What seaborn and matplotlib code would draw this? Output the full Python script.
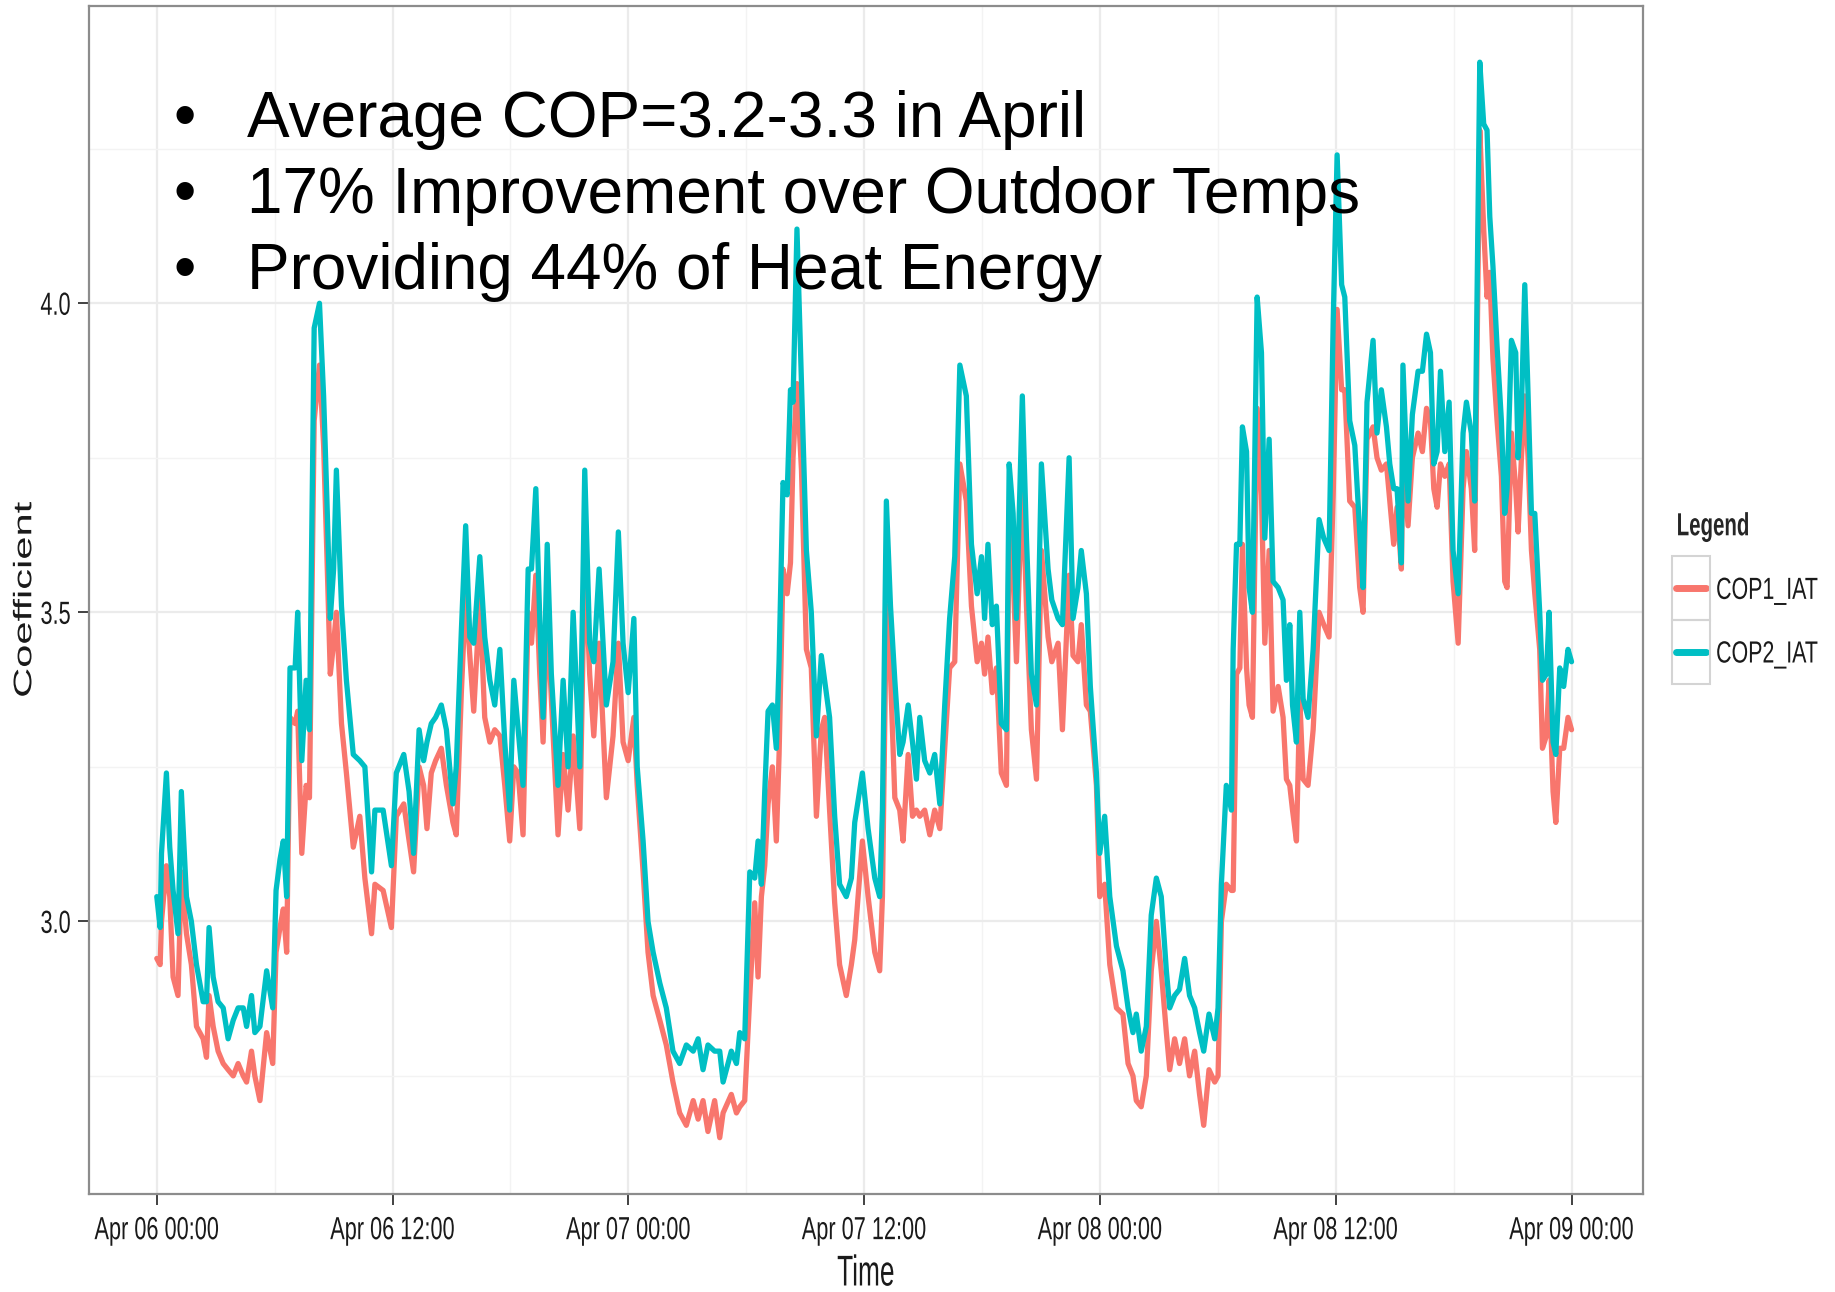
import pandas as pd
import numpy as np
import matplotlib
matplotlib.use("Agg")
import matplotlib.pyplot as plt
import matplotlib.dates as mdates
import matplotlib.patheffects as pe
from matplotlib.transforms import Affine2D, Bbox
from matplotlib.patches import Rectangle
import seaborn as sns

# hours after Apr 06 00:00
hours = [
    0.00, 0.17, 0.24, 0.49, 0.66, 0.83, 1.08, 1.25, 1.51, 1.76,
    2.02, 2.36, 2.53, 2.66, 2.87, 3.12, 3.38, 3.63, 3.89, 4.14,
    4.40, 4.57, 4.82, 4.99, 5.25, 5.59, 5.90, 6.07, 6.27, 6.44,
    6.61, 6.78, 7.04, 7.17, 7.38, 7.60, 7.77, 8.01, 8.28, 8.49,
    8.66, 8.83, 9.00, 9.14, 9.40, 9.65, 10.00, 10.33, 10.59, 10.93,
    11.10, 11.52, 11.94, 12.19, 12.57, 12.84, 13.07, 13.35, 13.58, 13.75,
    13.97, 14.19, 14.48, 14.74, 15.07, 15.24, 15.50, 15.72, 15.93, 16.13,
    16.44, 16.69, 16.95, 17.20, 17.46, 17.71, 17.96, 18.17, 18.39, 18.64,
    18.90, 19.07, 19.29, 19.49, 19.66, 19.87, 20.08, 20.42, 20.68, 20.93,
    21.19, 21.53, 21.78, 22.03, 22.24, 22.51, 22.88, 23.22, 23.49, 23.73,
    23.99, 24.28, 24.45, 24.75, 25.00, 25.26, 25.60, 25.93, 26.27, 26.61,
    26.95, 27.30, 27.55, 27.80, 28.05, 28.39, 28.65, 28.82, 29.24, 29.50,
    29.67, 29.92, 30.18, 30.43, 30.60, 30.77, 30.94, 31.11, 31.33, 31.53,
    31.67, 31.87, 32.08, 32.25, 32.38, 32.58, 32.81, 33.06, 33.31, 33.57,
    33.82, 33.99, 34.24, 34.50, 34.75, 35.09, 35.35, 35.52, 35.91, 36.20,
    36.54, 36.79, 36.93, 37.13, 37.34, 37.56, 37.81, 37.98, 38.24, 38.46,
    38.66, 38.83, 39.08, 39.34, 39.59, 39.85, 40.10, 40.35, 40.61, 40.87,
    41.20, 41.46, 41.75, 41.97, 42.13, 42.30, 42.52, 42.73, 42.98, 43.24,
    43.38, 43.58, 43.75, 44.05, 44.26, 44.51, 44.77, 45.02, 45.36, 45.55,
    45.87, 46.09, 46.43, 46.63, 46.88, 47.05, 47.31, 47.51, 47.82, 47.99,
    48.24, 48.50, 48.84, 49.17, 49.43, 49.68, 49.85, 50.10, 50.36, 50.61,
    50.87, 51.12, 51.38, 51.55, 51.80, 52.05, 52.31, 52.56, 52.82, 53.07,
    53.28, 53.55, 53.84, 54.01, 54.18, 54.43, 54.69, 54.78, 54.95, 55.12,
    55.25, 55.46, 55.59, 55.76, 56.00, 56.22, 56.39, 56.61, 56.81, 57.07,
    57.32, 57.49, 57.66, 57.80, 58.00, 58.17, 58.34, 58.59, 58.85, 59.15,
    59.39, 59.66, 59.87, 60.07, 60.30, 60.46, 60.71, 60.97, 61.22, 61.39,
    61.59, 61.90, 62.10, 62.32, 62.58, 62.75, 62.95, 63.12, 63.34, 63.42,
    63.68, 63.90, 64.19, 64.41, 64.62, 64.82, 64.99, 65.16, 65.33, 65.55,
    65.77, 65.97, 66.23, 66.48, 66.65, 66.90, 67.07, 67.33, 67.53, 67.70,
    67.84, 68.00, 68.21, 68.43, 68.60, 68.72, 68.94, 69.16, 69.28, 69.45,
    69.62, 69.79, 69.96, 70.13, 70.38, 70.52, 70.72, 70.86, 71.06, 71.20,
    71.40, 71.60, 71.82, 72.00,
]

cop1_iat = [
    2.94, 2.93, 3.00, 3.09, 3.04, 2.91, 2.88, 3.08, 2.98, 2.93,
    2.83, 2.81, 2.78, 2.88, 2.83, 2.79, 2.77, 2.76, 2.75, 2.77,
    2.75, 2.74, 2.79, 2.75, 2.71, 2.82, 2.77, 2.95, 2.99, 3.02,
    2.95, 3.33, 3.32, 3.34, 3.11, 3.22, 3.20, 3.81, 3.90, 3.77,
    3.59, 3.40, 3.45, 3.50, 3.32, 3.24, 3.12, 3.17, 3.07, 2.98,
    3.06, 3.05, 2.99, 3.17, 3.19, 3.13, 3.08, 3.25, 3.22, 3.15,
    3.24, 3.26, 3.28, 3.22, 3.16, 3.14, 3.37, 3.53, 3.43, 3.34,
    3.52, 3.33, 3.29, 3.31, 3.30, 3.22, 3.13, 3.25, 3.24, 3.14,
    3.50, 3.45, 3.56, 3.40, 3.29, 3.50, 3.36, 3.14, 3.27, 3.18,
    3.30, 3.15, 3.60, 3.40, 3.30, 3.45, 3.20, 3.30, 3.45, 3.29,
    3.26, 3.33, 3.22, 3.08, 2.95, 2.88, 2.84, 2.80, 2.74, 2.69,
    2.67, 2.71, 2.68, 2.71, 2.66, 2.71, 2.65, 2.69, 2.72, 2.69,
    2.70, 2.71, 2.88, 3.03, 2.91, 3.04, 3.09, 3.19, 3.25, 3.13,
    3.27, 3.57, 3.53, 3.58, 3.75, 3.87, 3.73, 3.44, 3.41, 3.17,
    3.31, 3.33, 3.18, 3.03, 2.93, 2.88, 2.93, 2.97, 3.13, 3.04,
    2.95, 2.92, 3.04, 3.51, 3.40, 3.20, 3.18, 3.13, 3.27, 3.17,
    3.18, 3.17, 3.18, 3.14, 3.18, 3.15, 3.28, 3.41, 3.42, 3.74,
    3.68, 3.51, 3.42, 3.45, 3.40, 3.46, 3.37, 3.41, 3.24, 3.22,
    3.65, 3.56, 3.42, 3.72, 3.51, 3.31, 3.23, 3.60, 3.46, 3.42,
    3.45, 3.31, 3.56, 3.43, 3.42, 3.48, 3.35, 3.34, 3.22, 3.04,
    3.06, 2.93, 2.86, 2.85, 2.77, 2.75, 2.71, 2.70, 2.75, 2.92,
    3.00, 2.92, 2.82, 2.76, 2.81, 2.77, 2.81, 2.75, 2.79, 2.72,
    2.67, 2.76, 2.74, 2.75, 3.00, 3.06, 3.05, 3.05, 3.40, 3.41,
    3.61, 3.41, 3.35, 3.33, 3.83, 3.69, 3.45, 3.60, 3.34, 3.38,
    3.33, 3.23, 3.22, 3.18, 3.13, 3.36, 3.23, 3.22, 3.31, 3.50,
    3.48, 3.46, 3.69, 3.99, 3.86, 3.86, 3.68, 3.67, 3.54, 3.50,
    3.78, 3.80, 3.75, 3.73, 3.74, 3.68, 3.61, 3.67, 3.57, 3.75,
    3.64, 3.75, 3.79, 3.76, 3.83, 3.81, 3.70, 3.67, 3.74, 3.72,
    3.74, 3.55, 3.45, 3.70, 3.76, 3.70, 3.60, 4.28, 4.12, 4.01,
    4.05, 3.91, 3.81, 3.72, 3.55, 3.54, 3.79, 3.70, 3.63, 3.75,
    3.85, 3.75, 3.60, 3.53, 3.44, 3.28, 3.30, 3.39, 3.21, 3.16,
    3.28, 3.28, 3.33, 3.31,
]

cop2_iat = [
    3.04, 2.99, 3.11, 3.24, 3.12, 3.05, 2.98, 3.21, 3.04, 3.00,
    2.93, 2.87, 2.87, 2.99, 2.91, 2.87, 2.86, 2.81, 2.84, 2.86,
    2.86, 2.83, 2.88, 2.82, 2.83, 2.92, 2.86, 3.05, 3.10, 3.13,
    3.04, 3.41, 3.41, 3.50, 3.26, 3.39, 3.31, 3.96, 4.00, 3.85,
    3.68, 3.49, 3.57, 3.73, 3.51, 3.39, 3.27, 3.26, 3.25, 3.08,
    3.18, 3.18, 3.09, 3.24, 3.27, 3.21, 3.11, 3.31, 3.26, 3.29,
    3.32, 3.33, 3.35, 3.31, 3.19, 3.25, 3.47, 3.64, 3.46, 3.45,
    3.59, 3.46, 3.39, 3.35, 3.44, 3.29, 3.18, 3.39, 3.31, 3.22,
    3.57, 3.57, 3.70, 3.49, 3.33, 3.61, 3.40, 3.22, 3.39, 3.25,
    3.50, 3.25, 3.73, 3.45, 3.42, 3.57, 3.35, 3.42, 3.63, 3.45,
    3.37, 3.49, 3.25, 3.13, 3.00, 2.95, 2.90, 2.86, 2.79, 2.77,
    2.80, 2.79, 2.81, 2.76, 2.80, 2.79, 2.79, 2.74, 2.79, 2.77,
    2.82, 2.81, 3.08, 3.07, 3.13, 3.06, 3.21, 3.34, 3.35, 3.28,
    3.42, 3.71, 3.69, 3.86, 3.84, 4.12, 3.87, 3.60, 3.50, 3.30,
    3.43, 3.39, 3.33, 3.17, 3.06, 3.04, 3.07, 3.16, 3.24, 3.15,
    3.07, 3.04, 3.18, 3.68, 3.51, 3.39, 3.27, 3.29, 3.35, 3.29,
    3.23, 3.33, 3.26, 3.24, 3.27, 3.19, 3.35, 3.49, 3.59, 3.90,
    3.85, 3.61, 3.53, 3.59, 3.49, 3.61, 3.48, 3.51, 3.32, 3.31,
    3.74, 3.66, 3.49, 3.85, 3.62, 3.40, 3.35, 3.74, 3.57, 3.52,
    3.49, 3.48, 3.75, 3.49, 3.54, 3.60, 3.53, 3.38, 3.24, 3.11,
    3.17, 3.04, 2.96, 2.92, 2.86, 2.82, 2.85, 2.79, 2.83, 3.01,
    3.07, 3.04, 2.92, 2.86, 2.88, 2.89, 2.94, 2.88, 2.86, 2.82,
    2.79, 2.85, 2.81, 2.86, 3.06, 3.22, 3.18, 3.44, 3.61, 3.61,
    3.80, 3.76, 3.54, 3.50, 4.01, 3.92, 3.62, 3.78, 3.55, 3.54,
    3.52, 3.39, 3.48, 3.35, 3.29, 3.50, 3.36, 3.33, 3.44, 3.65,
    3.62, 3.60, 3.97, 4.24, 4.03, 4.01, 3.81, 3.77, 3.63, 3.54,
    3.84, 3.94, 3.79, 3.86, 3.80, 3.74, 3.70, 3.70, 3.58, 3.90,
    3.68, 3.82, 3.89, 3.89, 3.95, 3.92, 3.74, 3.76, 3.89, 3.76,
    3.84, 3.60, 3.53, 3.79, 3.84, 3.79, 3.68, 4.39, 4.29, 4.28,
    4.14, 4.06, 3.93, 3.81, 3.66, 3.70, 3.94, 3.92, 3.75, 3.83,
    4.03, 3.85, 3.66, 3.66, 3.50, 3.39, 3.40, 3.50, 3.29, 3.27,
    3.41, 3.38, 3.44, 3.42,
]

series_names = ["COP1_IAT", "COP2_IAT"]
colors = ["#F8766D", "#00BFC4"]
bullets = [
    "Average COP=3.2-3.3 in April",
    "17% Improvement over Outdoor Temps",
    "Providing 44% of Heat Energy",
]

start = pd.Timestamp("2015-04-06 00:00")
times = start + pd.to_timedelta(hours, unit="h")
df = pd.concat([
    pd.DataFrame({"Time": times, "Coefficient": cop1_iat, "Legend": series_names[0]}),
    pd.DataFrame({"Time": times, "Coefficient": cop2_iat, "Legend": series_names[1]}),
])


class Squeeze(pe.AbstractPathEffect):
    """the source image was squashed sideways, so its axis text looks condensed"""
    def __init__(self, sx=1.0, sy=1.0, anchor="center"):
        super().__init__()
        self.sx, self.sy, self.anchor = sx, sy, anchor

    def draw_path(self, renderer, gc, tpath, affine, rgbFace=None):
        ext = tpath.get_extents()
        cx = {"left": ext.x0, "right": ext.x1}.get(self.anchor, (ext.x0 + ext.x1) / 2)
        cy = (ext.y0 + ext.y1) / 2
        t = Affine2D().translate(-cx, -cy).scale(self.sx, self.sy).translate(cx, cy)
        renderer.draw_path(gc, tpath, t + affine, rgbFace)


def squeeze(text, k, anchor="center", rotated=False):
    # condense the glyphs and report the narrower box too
    text.set_path_effects([Squeeze(1.0, k) if rotated else Squeeze(k, 1.0, anchor)])
    orig = text.get_window_extent

    def extent(renderer=None, dpi=None):
        bb = orig(renderer, dpi)
        w = bb.width * k
        if anchor == "left" and not rotated:
            x0 = bb.x0
        elif anchor == "right" and not rotated:
            x0 = bb.x1 - w
        else:
            x0 = (bb.x0 + bb.x1 - w) / 2
        return Bbox.from_extents(x0, bb.y0, x0 + w, bb.y1)

    text.get_window_extent = extent


sns.set_theme(style="white")
plt.rcParams["font.family"] = ["Liberation Sans", "DejaVu Sans"]

fig = plt.figure(figsize=(18.35, 12.92), dpi=100)
ax = fig.add_axes([0.0485, 0.0759, 0.8469, 0.9195])

sns.lineplot(data=df, x="Time", y="Coefficient", hue="Legend",
             hue_order=series_names, palette=colors, linewidth=3.8,
             estimator=None, ax=ax)

ax.set_xlim(start - pd.Timedelta(hours=3.45), start + pd.Timedelta(hours=75.64))
ax.set_ylim(2.559, 4.481)

ax.xaxis.set_major_locator(mdates.HourLocator(byhour=[0, 12]))
ax.xaxis.set_minor_locator(mdates.HourLocator(byhour=[6, 18]))
ax.xaxis.set_major_formatter(mdates.DateFormatter("%b %d %H:%M"))
ax.set_yticks([3.0, 3.5, 4.0])
ax.set_yticks([2.75, 3.25, 3.75, 4.25], minor=True)
ax.yaxis.set_major_formatter(matplotlib.ticker.FormatStrFormatter("%.1f"))

ax.grid(which="major", color="#EBEBEB", linewidth=1.6)
ax.grid(which="minor", color="#F3F3F3", linewidth=1.0)
ax.set_axisbelow(True)
for s in ax.spines.values():
    s.set_color("#8C8C8C")
    s.set_linewidth(1.6)

ax.tick_params(axis="both", which="major", direction="out", length=8, width=1.3,
               color="#333333", bottom=True, left=True)
ax.tick_params(axis="x", which="major", pad=8)
ax.tick_params(axis="y", which="major", pad=5)
ax.tick_params(axis="both", which="minor", length=0)
for lab in ax.get_xticklabels():
    lab.set_fontsize(23)
    lab.set_color("#1A1A1A")
    squeeze(lab, 0.68)
for lab in ax.get_yticklabels():
    lab.set_fontsize(23)
    lab.set_color("#1A1A1A")
    squeeze(lab, 0.68, anchor="right")

ax.set_xlabel("Time", fontsize=31, color="#1A1A1A", labelpad=6)
squeeze(ax.xaxis.label, 0.61)
ax.set_ylabel("")
ylab = fig.text(0.0142, 0.5356, "Coefficient", rotation=90, ha="center", va="center",
                fontsize=30, color="#1A1A1A")
squeeze(ylab, 0.61, rotated=True)

leg = ax.legend(title="Legend", loc="upper left", bbox_to_anchor=(0.9133, 0.6035),
                bbox_transform=fig.transFigure, frameon=False,
                handlelength=1.0, handletextpad=0.3, labelspacing=1.1,
                borderpad=0, borderaxespad=0,
                prop={"size": 22},
                title_fontproperties={"size": 23, "weight": "bold"})
leg._legend_box.align = "left"
squeeze(leg.get_title(), 0.64, anchor="left")
for t in leg.get_texts():
    t.set_color("#1A1A1A")
    squeeze(t, 0.70, anchor="left")
for line in leg.get_lines():
    line.set_linewidth(5)

ys = [0.894, 0.835, 0.776]
for txt, y in zip(bullets, ys):
    fig.text(0.1008, y, "\u2022", ha="center", va="baseline", fontsize=46, color="black")
    fig.text(0.1346, y, txt, ha="left", va="baseline", fontsize=46, color="black")

# grey key boxes around the legend swatches, as in ggplot's theme_bw
fig.canvas.draw()
renderer = fig.canvas.get_renderer()
W, H = fig.bbox.width, fig.bbox.height
centers = []
for line in leg.get_lines():
    bb = line.get_window_extent(renderer)
    centers.append(((bb.x0 + bb.x1) / 2, (bb.y0 + bb.y1) / 2))
step = abs(centers[0][1] - centers[1][1])
for cx, cy in centers:
    fig.add_artist(Rectangle(((cx - 19) / W, (cy - step / 2) / H), 38 / W, step / H,
                             transform=fig.transFigure, fill=False,
                             edgecolor="#D4D4D4", linewidth=1.5))

fig.savefig("out.png", dpi=100)
